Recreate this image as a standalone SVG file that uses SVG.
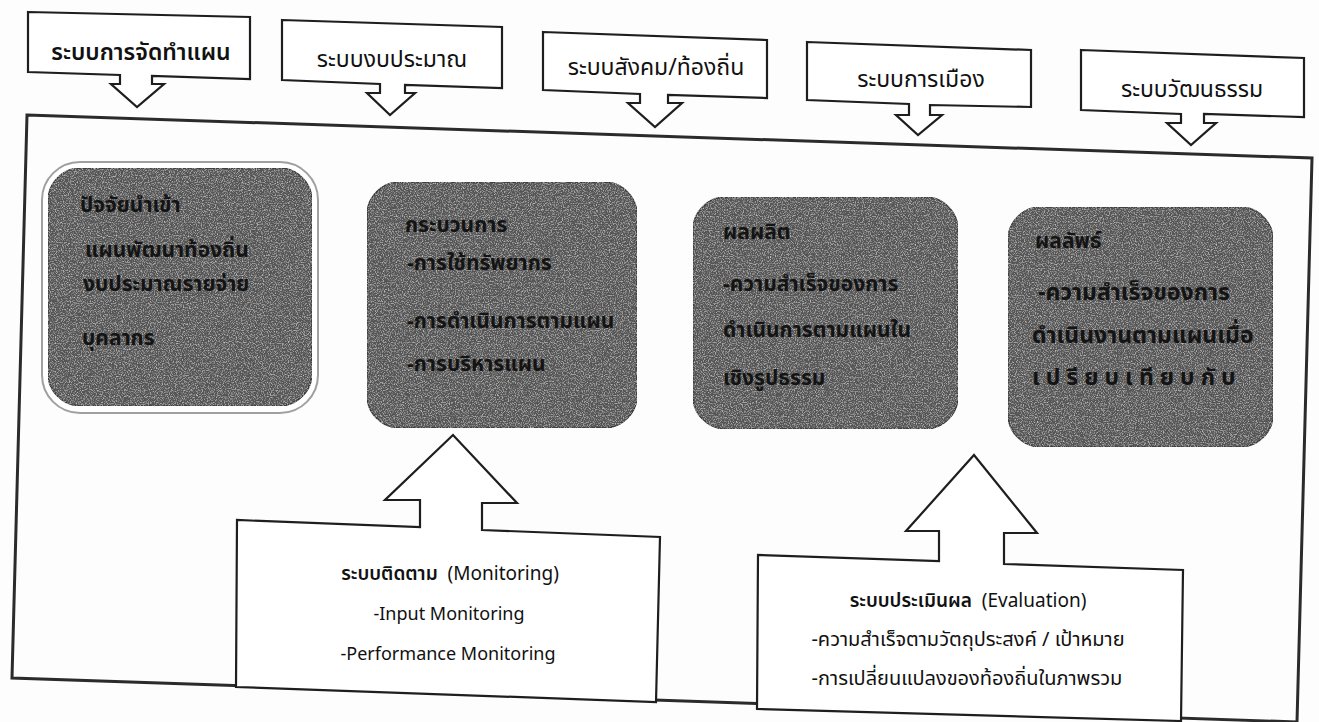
<svg xmlns="http://www.w3.org/2000/svg" width="1319" height="722" viewBox="0 0 1319 722">
<style>
  .bg { fill: #fdfdfd; }
  .frame { fill: none; stroke: #2b2b2b; stroke-width: 3; stroke-linejoin: miter; }
  .call { fill: #ffffff; stroke: #1e1e1e; stroke-width: 2.2; stroke-linejoin: miter; }
  .lbl { font-family: "Noto Sans Thai", "Noto Sans", "Liberation Sans", sans-serif; font-size: 23px; fill: #111; text-anchor: middle; }
  .lblb { font-weight: 600; }
  .dark { fill: #555555; stroke: #3a3a3a; stroke-width: 1.5; }
  .dtxt { font-family: "Noto Sans Thai", "Noto Sans", "Liberation Sans", sans-serif; font-size: 21px; font-weight: 700; fill: #141414; }
  .dtxt4 { font-size: 23px; }
  .btxt { font-family: "Noto Sans Thai", "Noto Sans", "Liberation Sans", sans-serif; font-size: 18px; fill: #111; text-anchor: middle; white-space: pre; }
  .etxt { font-size: 20px; }
  .ttl { font-size: 19px; }
</style>
<defs>
  <filter id="grain" x="0" y="0" width="100%" height="100%">
    <feTurbulence type="fractalNoise" baseFrequency="0.85" numOctaves="2" seed="7" result="n"/>
    <feColorMatrix in="n" type="matrix" values="0 0 0 0 0.8  0 0 0 0 0.8  0 0 0 0 0.8  1.6 0 0 0 -0.75" result="g"/>
    <feComposite in="g" in2="SourceGraphic" operator="in" result="gm"/>
    <feMerge><feMergeNode in="SourceGraphic"/><feMergeNode in="gm"/></feMerge>
  </filter>
</defs>
<rect class="bg" x="0" y="0" width="1319" height="722"/>

<g id="connectors">
  <polygon id="container" class="frame" points="27,115 1312,158 1297,722 12,678"/>
</g>

<g id="top-plan">
  <path class="call" d="M28,12 L250,17 L250,79 L152,76 L152,84 L164,84 L137,107 L111,84 L120,84 L120,75 L28,72 Z"/>
  <text class="lbl lblb" x="141" y="60">ระบบการจัดทำแผน</text>
</g>
<g id="top-budget">
  <path class="call" d="M282,20 L502,27 L502,88 L405,85 L405,93 L415,93 L390,115 L367,93 L380,93 L380,84 L282,80 Z"/>
  <text class="lbl" x="392" y="67">ระบบงบประมาณ</text>
</g>
<g id="top-social">
  <path class="call" d="M543,32 L767,40 L767,98 L668,95 L668,103 L682,103 L655,127 L628,103 L640,103 L640,94 L543,90 Z"/>
  <text class="lbl" x="656" y="75">ระบบสังคม/ท้องถิ่น</text>
</g>
<g id="top-politics">
  <path class="call" d="M807,42 L1031,50 L1031,107 L930,105 L930,115 L942,115 L918,135 L896,115 L909,115 L909,104 L807,100 Z"/>
  <text class="lbl" x="921" y="87">ระบบการเมือง</text>
</g>
<g id="top-culture">
  <path class="call" d="M1081,50 L1304,58 L1304,117 L1204,114 L1204,123 L1216,123 L1191,145 L1167,123 L1181,123 L1181,114 L1081,110 Z"/>
  <text class="lbl" x="1192" y="97">ระบบวัฒนธรรม</text>
</g>

<g id="input">
  <rect x="42" y="162" width="276" height="251" rx="38" fill="#ffffff" stroke="#a0a0a0" stroke-width="2"/>
  <rect class="dark" x="48" y="168" width="264" height="238" rx="33" filter="url(#grain)"/>
  <text class="dtxt" x="80" y="212">ปัจจัยนำเข้า</text>
  <text class="dtxt" x="85" y="257">แผนพัฒนาท้องถิ่น</text>
  <text class="dtxt" x="83" y="291">งบประมาณรายจ่าย</text>
  <text class="dtxt" x="82" y="345">บุคลากร</text>
</g>

<g id="process">
  <rect class="dark" x="367" y="182" width="270" height="246" rx="33" filter="url(#grain)"/>
  <text class="dtxt" x="405" y="232">กระบวนการ</text>
  <text class="dtxt" x="407" y="270">-การใช้ทรัพยากร</text>
  <text class="dtxt" x="407" y="328">-การดำเนินการตามแผน</text>
  <text class="dtxt" x="407" y="371">-การบริหารแผน</text>
</g>

<g id="output">
  <rect class="dark" x="693" y="197" width="265" height="232" rx="33" filter="url(#grain)"/>
  <text class="dtxt" x="723" y="239">ผลผลิต</text>
  <text class="dtxt" x="723" y="291">-ความสำเร็จของการ</text>
  <text class="dtxt" x="723" y="337">ดำเนินการตามแผนใน</text>
  <text class="dtxt" x="723" y="385">เชิงรูปธรรม</text>
</g>

<g id="outcome">
  <rect class="dark" x="1008" y="207" width="265" height="240" rx="33" filter="url(#grain)"/>
  <text class="dtxt" x="1035" y="248">ผลลัพธ์</text>
  <text class="dtxt dtxt4" x="1038" y="300">-ความสำเร็จของการ</text>
  <text class="dtxt dtxt4" x="1032" y="343">ดำเนินงานตามแผนเมื่อ</text>
  <text class="dtxt dtxt4" x="1032" y="385" letter-spacing="6">เปรียบเทียบกับ</text>
</g>

<g id="monitoring">
  <path class="call" d="M236,687 L237,520 L420,527 L420,500 L385,500 L453,435 L517,503 L482,503 L482,530 L660,537 L656,702 Z"/>
  <text class="btxt ttl" x="450" y="580"><tspan font-weight="600">ระบบติดตาม</tspan>  (Monitoring)</text>
  <text class="btxt" x="449" y="620">-Input Monitoring</text>
  <text class="btxt" x="448" y="660">-Performance Monitoring</text>
</g>

<g id="evaluation">
  <path class="call" d="M757,709 L758,555 L939,561 L939,531 L906,531 L974,455 L1037,533 L1004,533 L1004,564 L1183,570 L1181,721 Z"/>
  <text class="btxt ttl" x="968" y="607"><tspan font-weight="600">ระบบประเมินผล</tspan>  (Evaluation)</text>
  <text class="btxt etxt" x="968" y="646">-ความสำเร็จตามวัตถุประสงค์ / เป้าหมาย</text>
  <text class="btxt etxt" x="967" y="685">-การเปลี่ยนแปลงของท้องถิ่นในภาพรวม</text>
</g>
</svg>
